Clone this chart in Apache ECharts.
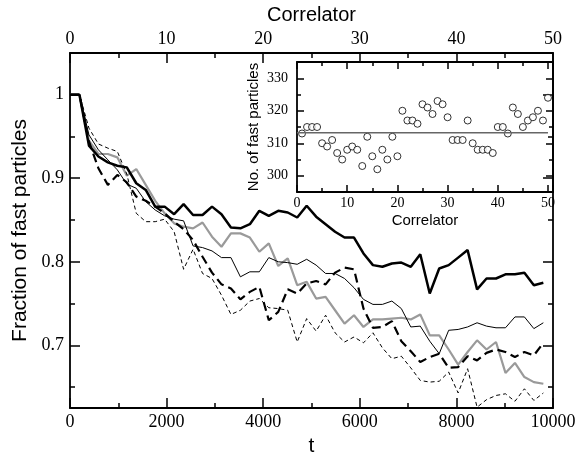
<!DOCTYPE html>
<html><head><meta charset="utf-8">
<script src="https://cdn.jsdelivr.net/npm/echarts@6/dist/echarts.min.js"></script>
<style>html,body{margin:0;padding:0;background:#fff}#c{width:587px;height:462px}</style>
</head><body><div id="c"></div>
<script>
// ---- data ----
const tValues = [0,196,392,588,784,980,1176,1372,1568,1764,1960,2156,2352,2548,2744,2940,3136,3332,3528,3724,3920,4116,4312,4508,4704,4900,5096,5292,5488,5684,5880,6076,6272,6468,6664,6860,7056,7252,7448,7644,7840,8036,8232,8428,8624,8820,9016,9212,9408,9604,9800];
const thickSolid = [1,1,0.939,0.926,0.919,0.915,0.913,0.894,0.886,0.866,0.866,0.857,0.869,0.856,0.856,0.866,0.857,0.841,0.840,0.845,0.861,0.855,0.861,0.859,0.853,0.867,0.854,0.845,0.836,0.829,0.829,0.810,0.796,0.794,0.798,0.799,0.794,0.809,0.762,0.792,0.796,0.805,0.814,0.767,0.780,0.780,0.785,0.785,0.787,0.772,0.775];
const thinSolid = [1,1,0.952,0.934,0.922,0.910,0.893,0.888,0.872,0.862,0.855,0.851,0.849,0.819,0.817,0.813,0.805,0.805,0.782,0.788,0.788,0.805,0.800,0.799,0.797,0.803,0.796,0.786,0.786,0.780,0.769,0.755,0.749,0.749,0.753,0.744,0.722,0.723,0.705,0.690,0.718,0.719,0.722,0.727,0.723,0.721,0.721,0.734,0.734,0.720,0.727];
const graySolid = [1,1,0.945,0.929,0.929,0.925,0.903,0.911,0.892,0.873,0.858,0.846,0.842,0.840,0.847,0.830,0.818,0.834,0.834,0.829,0.812,0.822,0.795,0.804,0.772,0.776,0.756,0.758,0.742,0.726,0.736,0.722,0.731,0.731,0.732,0.733,0.731,0.737,0.712,0.712,0.695,0.677,0.692,0.706,0.695,0.704,0.667,0.679,0.662,0.656,0.654];
const thickDashed = [1,1,0.944,0.912,0.892,0.904,0.895,0.878,0.873,0.866,0.858,0.848,0.839,0.826,0.806,0.787,0.773,0.768,0.755,0.764,0.770,0.730,0.740,0.767,0.762,0.774,0.777,0.773,0.787,0.793,0.791,0.744,0.721,0.722,0.729,0.705,0.693,0.680,0.686,0.690,0.673,0.674,0.687,0.682,0.691,0.695,0.692,0.686,0.692,0.688,0.703];
const thinDashed = [1,1,0.960,0.941,0.936,0.932,0.905,0.858,0.848,0.848,0.851,0.836,0.791,0.815,0.786,0.780,0.760,0.737,0.742,0.753,0.756,0.745,0.744,0.742,0.704,0.732,0.717,0.736,0.715,0.704,0.710,0.703,0.715,0.697,0.684,0.687,0.673,0.658,0.656,0.657,0.668,0.643,0.672,0.626,0.635,0.640,0.642,0.633,0.648,0.634,0.643];

const correlator = [1,2,3,4,5,6,7,8,9,10,11,12,13,14,15,16,17,18,19,20,21,22,23,24,25,26,27,28,29,30,31,32,33,34,35,36,37,38,39,40,41,42,43,44,45,46,47,48,49,50];
const fastCount = [313,315,315,315,310,309,311,307,305,308,309,308,303,312,306,302,308,305,312,306,320,317,317,316,322,321,319,323,322,318,311,311,311,317,310,308,308,308,307,315,315,313,321,319,315,317,318,320,317,324];
const fastMean = 313.2;
const meanSpan = [0, 50];

const mainYMajor = [0.7, 0.8, 0.9, 1.0];
const mainYMinor = [0.65, 0.75, 0.85, 0.95];
const insetYMajor = [300, 310, 320, 330];
const insetYMinor = [305, 315, 325];

// ---- helpers ----
const zip = (xs, ys) => xs.map((x, i) => [x, ys[i]]);
const SERIF = 'Liberation Serif', SANS = 'Liberation Sans';
const AW = 1.8;
const plain = v => String(Math.round(v));

function xAx(grid, pos, min, max, interval, o) {
  o = o || {};
  return Object.assign({
    type: 'value', gridIndex: grid, position: pos, min: min, max: max, interval: interval,
    axisLine: { show: true, onZero: false, lineStyle: { color: '#000', width: AW } },
    axisTick: { show: true, inside: true, length: o.tick || 10, lineStyle: { color: '#000', width: 1.5 } },
    minorTick: { show: true, splitNumber: 2, length: o.minor || 5, lineStyle: { color: '#000', width: 1.5 } },
    splitLine: { show: false }, minorSplitLine: { show: false },
    axisLabel: o.label ? Object.assign({ color: '#000', fontFamily: SERIF, formatter: plain, showMaxLabel: o.showMax !== false ? null : false }, o.label) : { show: false }
  }, o.extra || {});
}
function yAx(grid, pos, min, max, vals, len, showLine, o) {
  o = o || {};
  return Object.assign({
    type: 'value', gridIndex: grid, position: pos, min: min, max: max, offset: 0,
    axisLine: { show: showLine, onZero: false, lineStyle: { color: '#000', width: AW } },
    axisTick: { show: true, inside: true, length: len, customValues: vals, lineStyle: { color: '#000', width: 1.5 } },
    splitLine: { show: false },
    axisLabel: o.label ? Object.assign({ color: '#000', fontFamily: SERIF, customValues: vals }, o.label) : { show: false }
  }, o.extra || {});
}

const chart = echarts.init(document.getElementById('c'), null, { renderer: 'canvas' });
chart.setOption({
  backgroundColor: '#fff',
  animation: false,
  grid: [
    { left: 70, top: 50, width: 483, height: 369 },
    { left: 297, top: 62, width: 256, height: 130 }
  ],
  xAxis: [
    xAx(0, 'bottom', 0, 10000, 2000, { label: { fontSize: 18, margin: 5 }, extra: {
      name: 't', nameLocation: 'middle', nameGap: 28, nameTextStyle: { fontFamily: SANS, fontSize: 21, color: '#000' } } }),
    xAx(0, 'top', 0, 50, 10, { label: { fontSize: 18, margin: 5 }, extra: {
      name: 'Correlator', nameLocation: 'middle', nameGap: 20, nameTextStyle: { fontFamily: SANS, fontSize: 20, color: '#000' } } }),
    xAx(1, 'bottom', 0, 51, 10, { tick: 7, minor: 4, showMax: false, label: { fontSize: 14, margin: 4 }, extra: {
      name: 'Correlator', nameLocation: 'middle', nameGap: 21, nameTextStyle: { fontFamily: SANS, fontSize: 15, color: '#000' } } }),
    xAx(1, 'top', 0, 51, 10, { tick: 7, minor: 4 })
  ],
  yAxis: [
    yAx(0, 'left', 0.625, 1.05, mainYMajor, 10, true, { label: { fontSize: 18, margin: 6,
      formatter: v => (Math.abs(v - 1) < 1e-9 ? '1' : (+v).toFixed(1)) }, extra: {
      name: 'Fraction of fast particles', nameLocation: 'middle', nameGap: 37,
      nameTextStyle: { fontFamily: SANS, fontSize: 21, color: '#000' } } }),
    yAx(0, 'left', 0.625, 1.05, mainYMinor, 5, false),
    yAx(0, 'right', 0.625, 1.05, mainYMajor, 10, true),
    yAx(0, 'right', 0.625, 1.05, mainYMinor, 5, false),
    yAx(1, 'left', 295, 335, insetYMajor, 7, true, { label: { fontSize: 14, margin: 9 }, extra: {
      name: 'No. of fast particles', nameLocation: 'middle', nameGap: 36,
      nameTextStyle: { fontFamily: SANS, fontSize: 15, color: '#000' } } }),
    yAx(1, 'left', 295, 335, insetYMinor, 4, false),
    yAx(1, 'right', 295, 335, insetYMajor, 7, true),
    yAx(1, 'right', 295, 335, insetYMinor, 4, false)
  ],
  series: [
    { type: 'line', xAxisIndex: 0, yAxisIndex: 0, data: zip(tValues, graySolid), symbol: 'none',
      lineStyle: { color: '#9a9a9a', width: 2.2 } },
    { type: 'line', xAxisIndex: 0, yAxisIndex: 0, data: zip(tValues, thinDashed), symbol: 'none',
      lineStyle: { color: '#000', width: 1, type: [4, 3] } },
    { type: 'line', xAxisIndex: 0, yAxisIndex: 0, data: zip(tValues, thickDashed), symbol: 'none',
      lineStyle: { color: '#000', width: 2.2, type: [9, 5] } },
    { type: 'line', xAxisIndex: 0, yAxisIndex: 0, data: zip(tValues, thinSolid), symbol: 'none',
      lineStyle: { color: '#000', width: 1 } },
    { type: 'line', xAxisIndex: 0, yAxisIndex: 0, data: zip(tValues, thickSolid), symbol: 'none',
      lineStyle: { color: '#000', width: 2.5 } },
    { type: 'line', xAxisIndex: 2, yAxisIndex: 4, data: meanSpan.map(x => [x, fastMean]), symbol: 'none',
      lineStyle: { color: '#666', width: 1.5 } },
    { type: 'scatter', xAxisIndex: 2, yAxisIndex: 4, data: zip(correlator, fastCount), symbol: 'circle', symbolSize: 7,
      itemStyle: { color: '#fff', borderColor: '#000', borderWidth: 1 } }
  ]
});
</script></body></html>
